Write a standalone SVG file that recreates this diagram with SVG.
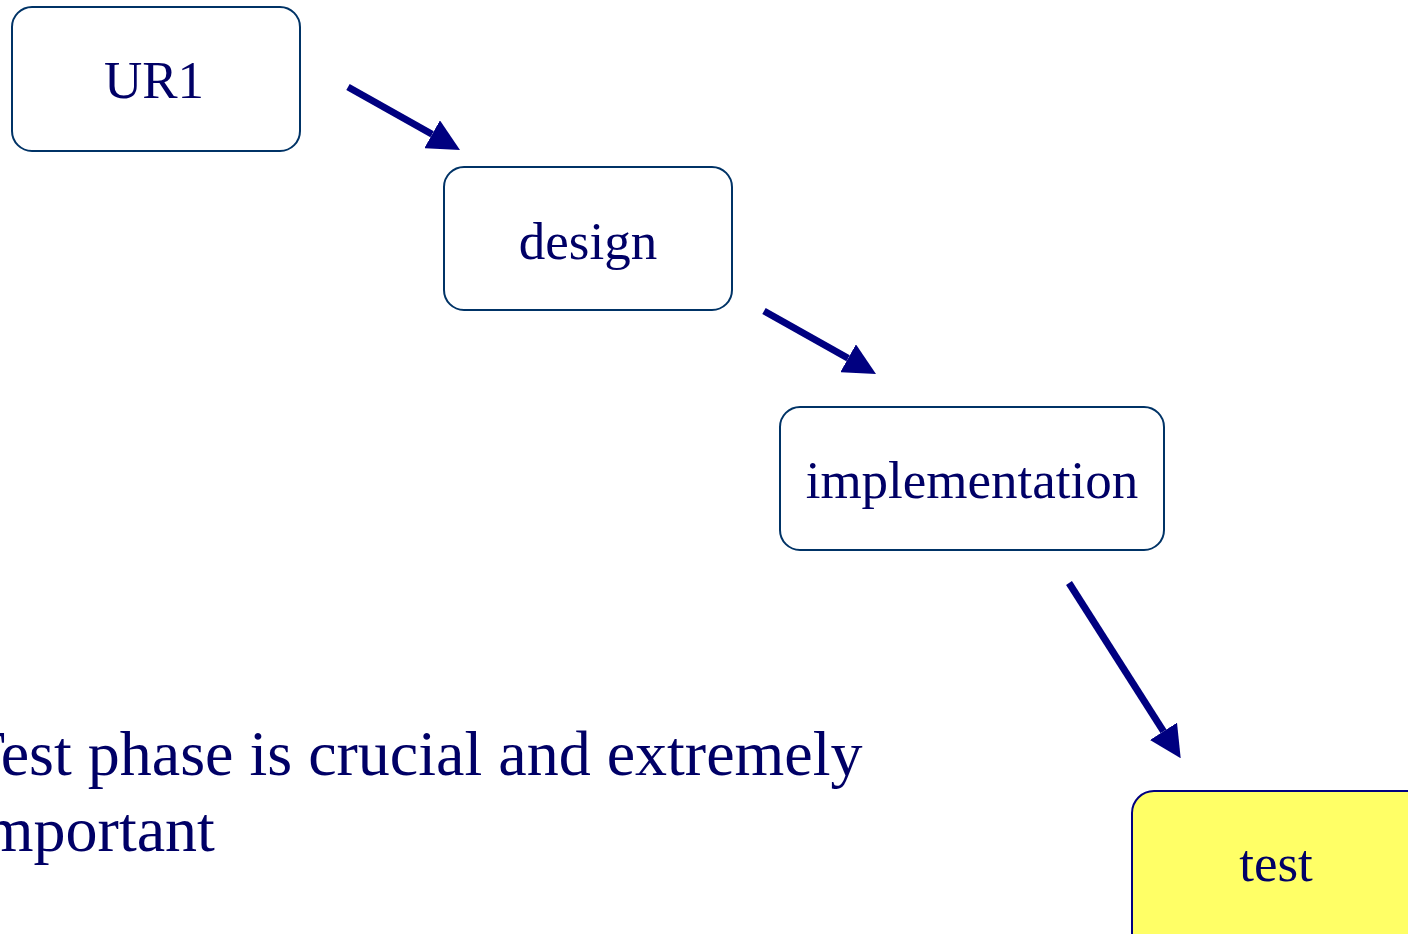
<svg xmlns="http://www.w3.org/2000/svg" width="1408" height="934" viewBox="0 0 1408 934">
  <style>
    .box { fill: #ffffff; stroke: #003366; stroke-width: 2; }
    .box.hl { fill: #ffff66; stroke: #000080; }
    .label { font-family: "Liberation Serif", "Times New Roman", serif; font-size: 53px; fill: #000066; text-anchor: middle; }
    .note { font-family: "Liberation Serif", "Times New Roman", serif; font-size: 64px; fill: #000066; }
    .flow { stroke: #000080; stroke-width: 7; fill: none; marker-end: url(#head); }
  </style>
  <defs>
    <marker id="head" markerUnits="userSpaceOnUse" markerWidth="32" markerHeight="32" viewBox="0 0 32 32" refX="0" refY="16" orient="auto">
      <path d="M0,0 L32,16 L0,32 Z" fill="#000080"/>
    </marker>
  </defs>

  <rect width="1408" height="934" fill="#ffffff"/>

  <g id="ur1">
    <rect class="box" x="12" y="7" width="288" height="144" rx="20"/>
    <text class="label" x="154" y="98">UR1</text>
  </g>

  <g id="design">
    <rect class="box" x="444" y="167" width="288" height="143" rx="20"/>
    <text class="label" x="588" y="259">design</text>
  </g>

  <g id="implementation">
    <rect class="box" x="780" y="407" width="384" height="143" rx="20"/>
    <text class="label" x="972" y="498">implementation</text>
  </g>

  <g id="test">
    <rect class="box hl" x="1132" y="791" width="300" height="170" rx="22"/>
    <text class="label" x="1276" y="881">test</text>
  </g>

  <g id="connectors">
    <line class="flow" x1="348" y1="87" x2="432.1" y2="134.3"/>
    <line class="flow" x1="764" y1="311" x2="848.1" y2="358.3"/>
    <line class="flow" x1="1069" y1="583" x2="1163.5" y2="731.3"/>
  </g>

  <g id="note">
    <text class="note" x="-34" y="775">Test phase is crucial and extremely</text>
    <text class="note" x="-34" y="851">important</text>
  </g>
</svg>
